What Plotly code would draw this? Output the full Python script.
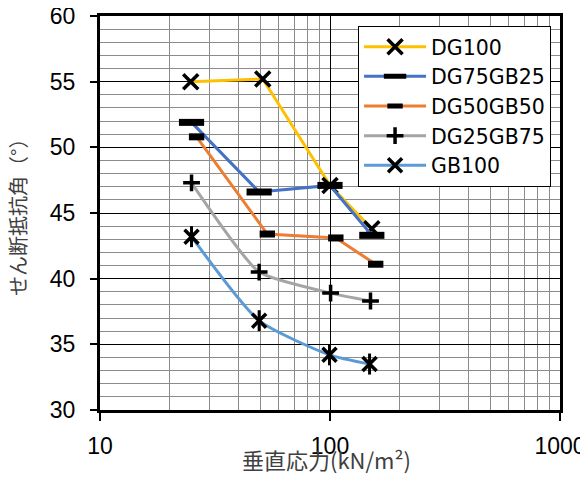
import plotly.graph_objects as go

# ---- data ----
series_names = ["DG100", "DG75GB25", "DG50GB50", "DG25GB75", "GB100"]

x_dg100 = [24.8, 51, 100, 152]
y_dg100 = [55.0, 55.2, 47.1, 43.8]

x_dg75gb25 = [25, 49.2, 100, 152]
y_dg75gb25 = [51.9, 46.6, 47.1, 43.3]

x_dg50gb50 = [26.3, 53.4, 106, 158]
y_dg50gb50 = [50.8, 43.4, 43.1, 41.1]

x_dg25gb75 = [25, 49.2, 100.6, 150]
y_dg25gb75 = [47.3, 40.5, 38.9, 38.3]

x_gb100 = [25, 49.2, 99.5, 148.6]
y_gb100 = [43.2, 36.8, 34.2, 33.5]

x_tick_vals = [10, 100, 1000]
x_tick_text = ["10", "100", "1000"]
x_minor_vals = [20, 30, 40, 50, 60, 70, 80, 90, 200, 300, 400, 500, 600, 700, 800, 900]

x_title = "垂直応力(kN/m²)"
y_title = "せん断抵抗角（°）"

colors = ["#FFC000", "#4472C4", "#ED7D31", "#A5A5A5", "#5B9BD5"]

fig = go.Figure()

fig.add_trace(go.Scatter(
    x=x_dg100, y=y_dg100, name=series_names[0], mode="lines+markers",
    line=dict(color=colors[0], width=3),
    marker=dict(symbol="x-thin", size=15, color="black",
                line=dict(color="black", width=3.5)),
))
fig.add_trace(go.Scatter(
    x=x_dg75gb25, y=y_dg75gb25, name=series_names[1], mode="lines+markers",
    line=dict(color=colors[1], width=3),
    marker=dict(symbol="line-ew", size=18, color="black",
                line=dict(color="black", width=7)),
))
fig.add_trace(go.Scatter(
    x=x_dg50gb50, y=y_dg50gb50, name=series_names[2], mode="lines+markers",
    line=dict(color=colors[2], width=3),
    marker=dict(symbol="line-ew", size=11, color="black",
                line=dict(color="black", width=7)),
))
fig.add_trace(go.Scatter(
    x=x_dg25gb75, y=y_dg25gb75, name=series_names[3], mode="lines+markers",
    line=dict(color=colors[3], width=3, shape="spline", smoothing=0.5),
    marker=dict(symbol="cross-thin", size=12, color="black",
                line=dict(color="black", width=3.5)),
))
fig.add_trace(go.Scatter(
    x=x_gb100, y=y_gb100, name=series_names[4], mode="lines+markers",
    line=dict(color=colors[4], width=3, shape="spline", smoothing=0.6),
    marker=dict(symbol="x-thin", size=14, color="black",
                line=dict(color="black", width=3.5)),
))
fig.add_trace(go.Scatter(
    x=x_gb100, y=y_gb100, mode="markers", showlegend=False, hoverinfo="skip",
    marker=dict(symbol="line-ns", size=15, color="black",
                line=dict(color="black", width=3)),
))

fig.update_layout(
    width=588, height=480,
    margin=dict(l=92, r=36, t=8, b=78, autoexpand=False),
    paper_bgcolor="white", plot_bgcolor="white",
    font=dict(family="Liberation Sans, Arial, sans-serif", color="black"),
    legend=dict(
        x=0.561, y=0.975, xanchor="left", yanchor="top",
        bgcolor="white", bordercolor="black", borderwidth=1,
        font=dict(size=20.5, family="DejaVu Sans, sans-serif"),
        itemwidth=62, tracegroupgap=0,
    ),
    xaxis=dict(
        type="log", range=[1, 3],
        tickvals=x_tick_vals, ticktext=x_tick_text,
        ticks="outside", ticklen=8, tickwidth=1.5, tickcolor="black",
        tickfont=dict(size=23), ticklabelstandoff=5,
        ticklabeloverflow="allow",
        showgrid=True, gridcolor="black", gridwidth=1.3,
        minor=dict(tickvals=x_minor_vals, showgrid=True,
                   gridcolor="#8c8c8c", gridwidth=1.3, ticks=""),
        showline=True, linecolor="black", linewidth=3, mirror=True,
        zeroline=False,
    ),
    yaxis=dict(
        range=[30, 60], dtick=5, tick0=30,
        ticks="outside", ticklen=7, tickwidth=1.5, tickcolor="black",
        tickfont=dict(size=23), ticklabelstandoff=10,
        ticklabeloverflow="allow",
        showgrid=True, gridcolor="black", gridwidth=1.3,
        minor=dict(dtick=1, showgrid=True, gridcolor="#8c8c8c",
                   gridwidth=1.3, ticks=""),
        showline=True, linecolor="black", linewidth=3, mirror=True,
        zeroline=False,
    ),
    annotations=[
        dict(text=x_title, xref="paper", yref="paper",
             x=(326 - 100) / 460, y=(410 - 459) / 394,
             xanchor="center", yanchor="middle", showarrow=False,
             font=dict(size=22, family="Noto Sans CJK JP, sans-serif", color="#404040")),
        dict(text=y_title, xref="paper", yref="paper",
             x=(17 - 100) / 460, y=(410 - 213) / 394,
             xanchor="center", yanchor="middle", showarrow=False, textangle=-90,
             font=dict(size=20, family="Noto Sans CJK JP, sans-serif", color="#404040")),
    ],
)

fig.write_html("out.html")
